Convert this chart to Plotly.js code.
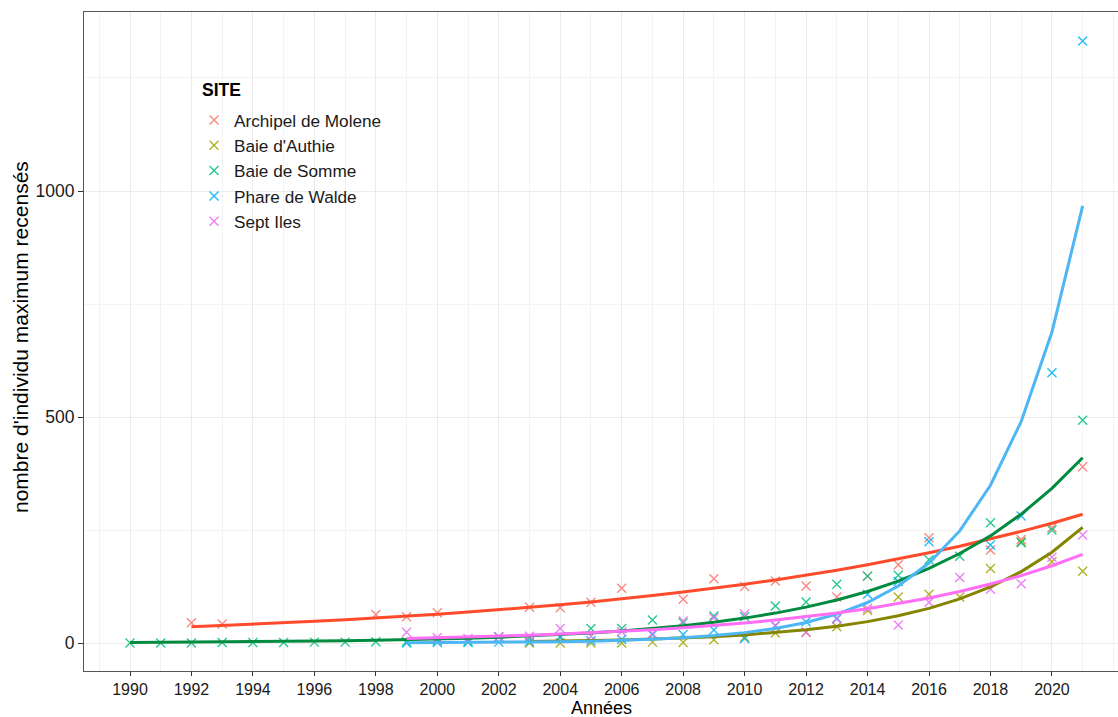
<!DOCTYPE html>
<html>
<head>
<meta charset="utf-8">
<script src="https://cdn.plot.ly/plotly-3.0.1.min.js"></script>
<style>html,body{margin:0;padding:0;background:#fff;}#chart{width:1118px;height:717px;}</style>
</head>
<body>
<div id="chart"></div>
<script>
// ---- Data ----
const siteNames = ["Archipel de Molene", "Baie d'Authie", "Baie de Somme", "Phare de Walde", "Sept Iles"];

const molenYears = [1992, 1993, 1998, 1999, 2000, 2003, 2004, 2005, 2006, 2008, 2009, 2010, 2011, 2012, 2013, 2014, 2015, 2016, 2018, 2019, 2020, 2021];
const molenValues = [45, 42, 63, 58, 67, 79, 78, 90, 121, 97, 142, 125, 137, 126, 102, 148, 173, 233, 206, 229, 255, 390];

const authieYears = [2003, 2004, 2005, 2006, 2007, 2008, 2009, 2010, 2011, 2012, 2013, 2014, 2015, 2016, 2017, 2018, 2019, 2020, 2021];
const authieValues = [0, 0, 0, 0, 2, 1, 7, 13, 22, 24, 36, 72, 102, 108, 102, 165, 224, 180, 159];

const sommeYears = [1990, 1991, 1992, 1993, 1994, 1995, 1996, 1997, 1998, 1999, 2000, 2001, 2002, 2003, 2004, 2005, 2006, 2007, 2008, 2009, 2010, 2011, 2012, 2013, 2014, 2015, 2016, 2017, 2018, 2019, 2020, 2021];
const sommeValues = [0, 0, 0, 1, 1, 1, 2, 2, 3, 3, 5, 4, 14, 10, 14, 32, 32, 51, 45, 60, 58, 82, 91, 130, 148, 150, 184, 192, 266, 222, 250, 493];

const waldeYears = [1999, 2000, 2001, 2002, 2003, 2004, 2005, 2006, 2007, 2008, 2009, 2010, 2011, 2012, 2013, 2014, 2015, 2016, 2018, 2019, 2020, 2021];
const waldeValues = [0, 1, 1, 2, 3, 13, 5, 8, 18, 19, 29, 10, 38, 47, 55, 108, 136, 224, 217, 281, 598, 1332];

const septYears = [1999, 2000, 2001, 2002, 2003, 2004, 2005, 2006, 2007, 2008, 2009, 2010, 2011, 2012, 2013, 2014, 2015, 2016, 2017, 2018, 2019, 2020, 2021];
const septValues = [24, 12, 10, 14, 15, 32, 15, 25, 21, 49, 56, 64, 39, 24, 53, 77, 40, 90, 145, 119, 131, 190, 239];

// fitted curves (at each year)
const molenFitYears = [1992, 1993, 1994, 1995, 1996, 1997, 1998, 1999, 2000, 2001, 2002, 2003, 2004, 2005, 2006, 2007, 2008, 2009, 2010, 2011, 2012, 2013, 2014, 2015, 2016, 2017, 2018, 2019, 2020, 2021];
const molenFit = [36, 38.7, 41.5, 44.6, 47.9, 51.4, 55.2, 59.3, 63.7, 68.4, 73.5, 78.9, 84.7, 91, 97.7, 105, 113, 121, 130, 139.5, 150, 161, 173, 186, 199.5, 214, 230, 247, 265, 285];

const authieFitYears = [2003, 2004, 2005, 2006, 2007, 2008, 2009, 2010, 2011, 2012, 2013, 2014, 2015, 2016, 2017, 2018, 2019, 2020, 2021];
const authieFit = [3.3, 4.2, 5.4, 6.9, 8.7, 11.1, 14.1, 18, 22.9, 29.2, 37.1, 47.3, 60.2, 76.6, 97.5, 124, 158, 201, 256];

const sommeFitYears = [1990, 1991, 1992, 1993, 1994, 1995, 1996, 1997, 1998, 1999, 2000, 2001, 2002, 2003, 2004, 2005, 2006, 2007, 2008, 2009, 2010, 2011, 2012, 2013, 2014, 2015, 2016, 2017, 2018, 2019, 2020, 2021];
const sommeFit = [1.4, 1.7, 2.1, 2.5, 3, 3.6, 4.3, 5.1, 6.2, 7.4, 8.9, 10.7, 12.8, 15.4, 18.4, 22.1, 26.6, 31.9, 38.3, 45.9, 55.1, 66.2, 79.4, 95.3, 114, 137, 165, 198, 237, 285, 342, 410];

const waldeFitYears = [1999, 2000, 2001, 2002, 2003, 2004, 2005, 2006, 2007, 2008, 2009, 2010, 2011, 2012, 2013, 2014, 2015, 2016, 2017, 2018, 2019, 2020, 2021];
const waldeFit = [0.55, 0.77, 1.08, 1.51, 2.12, 2.98, 4.19, 5.89, 8.28, 11.6, 16.4, 23, 32.3, 45.4, 63.8, 89.6, 126, 177, 248, 349, 490, 688, 967];

const septFitYears = [1999, 2000, 2001, 2002, 2003, 2004, 2005, 2006, 2007, 2008, 2009, 2010, 2011, 2012, 2013, 2014, 2015, 2016, 2017, 2018, 2019, 2020, 2021];
const septFit = [10, 11.4, 13.1, 15, 17.2, 19.7, 22.5, 25.8, 29.5, 33.8, 38.7, 44.3, 50.7, 58, 66.4, 76, 87, 99.6, 114, 130.5, 149, 171, 196];

const xTickVals = [1990, 1992, 1994, 1996, 1998, 2000, 2002, 2004, 2006, 2008, 2010, 2012, 2014, 2016, 2018, 2020];
const yTickVals = [0, 500, 1000];
const legendTitle = "SITE";
const xTitle = "Années";
const yTitle = "nombre d'individu maximum recensés";

// ---- Styles ----
const pointColors = ["#F8766D", "#A3A500", "#00BF7D", "#00B0F6", "#E76BF3"];
const lineColors = ["#FF4B2B", "#858500", "#008B3E", "#4DB6F5", "#FF6EF5"];

const pointSets = [[molenYears, molenValues], [authieYears, authieValues], [sommeYears, sommeValues], [waldeYears, waldeValues], [septYears, septValues]];
const fitSets = [[molenFitYears, molenFit], [authieFitYears, authieFit], [sommeFitYears, sommeFit], [waldeFitYears, waldeFit], [septFitYears, septFit]];

const traces = [];
pointSets.forEach((s, i) => {
  traces.push({
    x: s[0], y: s[1], type: 'scatter', mode: 'markers', name: siteNames[i],
    marker: {symbol: 'x-thin-open', size: 9, color: pointColors[i], opacity: 0.85,
             line: {color: pointColors[i], width: 1.4}},
    hoverinfo: 'x+y'
  });
});
fitSets.forEach((s, i) => {
  traces.push({
    x: s[0], y: s[1], type: 'scatter', mode: 'lines', name: siteNames[i],
    showlegend: false,
    line: {color: lineColors[i], width: 3},
    hoverinfo: 'x+y'
  });
});

const font = "Liberation Sans, Arial, Helvetica, sans-serif";
const layout = {
  width: 1118, height: 717,
  margin: {l: 84, r: 0, t: 12, b: 46},
  paper_bgcolor: '#ffffff', plot_bgcolor: '#ffffff',
  font: {family: font, color: '#1a1a1a'},
  showlegend: true,
  legend: {
    x: 0.1064, y: 0.8631, xanchor: 'left', yanchor: 'top',
    bgcolor: 'rgba(255,255,255,0)', borderwidth: 0,
    font: {family: font, size: 17.2, color: '#1a1a1a'},
    tracegroupgap: 0
  },
  shapes: [{
    type: 'rect', xref: 'paper', yref: 'paper', layer: 'between',
    x0: 0.1044, x1: 0.2863, y0: 0.654, y1: 0.903,
    fillcolor: '#ffffff', line: {width: 0}
  }],
  annotations: [{
    text: '<b>' + legendTitle + '</b>', xref: 'paper', yref: 'paper',
    x: 0.1122, y: 0.8816, xanchor: 'left', yanchor: 'middle', showarrow: false,
    font: {family: font, size: 17.5, color: '#000'}
  }, {
    text: xTitle, xref: 'paper', yref: 'paper',
    x: 0.5, y: -0.0561, xanchor: 'center', yanchor: 'middle', showarrow: false,
    font: {family: font, size: 18, color: '#000'}
  }, {
    text: yTitle, xref: 'paper', yref: 'paper', textangle: -90,
    x: -0.0619, y: 0.5068, xanchor: 'center', yanchor: 'middle', showarrow: false,
    font: {family: font, size: 21, color: '#000'}
  }],
  xaxis: {
    range: [1988.503, 2022.15], tickmode: 'array', tickvals: xTickVals,
    ticks: 'outside', ticklen: 4, tickcolor: '#333', tickwidth: 1,
    tickfont: {family: font, size: 16, color: '#1a1a1a'},
    showgrid: true, gridcolor: '#EBEBEB', gridwidth: 1.2,
    minor: {dtick: 1, tick0: 1989, showgrid: true, gridcolor: '#F3F3F3', gridwidth: 0.8, ticks: ''},
    showline: true, linecolor: '#555', linewidth: 1, mirror: true,
    zeroline: false
  },
  yaxis: {
    range: [-61.9, 1396], tickmode: 'array', tickvals: yTickVals,
    ticks: 'outside', ticklen: 5, tickcolor: '#333', tickwidth: 1,
    tickfont: {family: font, size: 17.5, color: '#1a1a1a'},
    showgrid: true, gridcolor: '#EBEBEB', gridwidth: 1.2,
    minor: {dtick: 250, tick0: 250, showgrid: true, gridcolor: '#F3F3F3', gridwidth: 0.8, ticks: ''},
    showline: true, linecolor: '#555', linewidth: 1, mirror: false,
    zeroline: false
  }
};

Plotly.newPlot('chart', traces, layout, {displayModeBar: false, responsive: false});
</script>
</body>
</html>
